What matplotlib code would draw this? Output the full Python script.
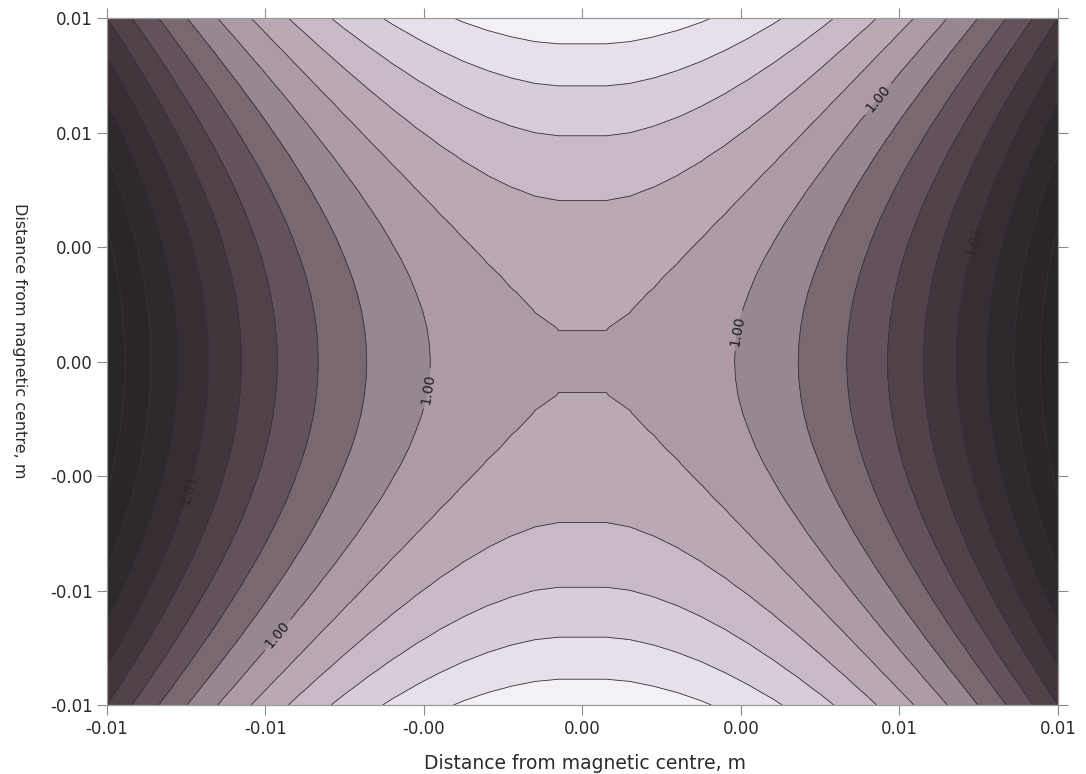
import numpy as np
import matplotlib
matplotlib.use("Agg")
import matplotlib.pyplot as plt
from matplotlib.ticker import FormatStrFormatter

plt.rcParams['font.family'] = ['DejaVu Sans']

# field map sampled every 0.5 mm from the magnetic centre outwards
step = 0.0005
# field along the horizontal axis (y = 0), centre -> edge
bx_half = [1.000040, 1.000040, 1.000097, 1.000219, 1.000388, 1.000607, 1.000874,
           1.001190, 1.001554, 1.001966, 1.002428, 1.002937, 1.003496, 1.004103,
           1.004758, 1.005462, 1.006214, 1.007016, 1.007865, 1.008763, 1.009710]
# field along the vertical axis (x = 0), centre -> edge
by_half = [1.000040, 1.000028, 0.999993, 0.999934, 0.999851, 0.999745, 0.999615,
           0.999462, 0.999285, 0.999084, 0.998860, 0.998612, 0.998341, 0.998046,
           0.997727, 0.997385, 0.997019, 0.996630, 0.996217, 0.995780, 0.995320]

levels = [0.995, 0.996, 0.997, 0.998, 0.999, 1.000, 1.001, 1.002,
          1.003, 1.004, 1.005, 1.006, 1.007, 1.008, 1.009, 1.010]
labelled = [1.001, 1.006]
band_colors = ['#f3f0f6', '#e6e0ea', '#d7ccda', '#c8b9c6', '#baa8b5',
               '#ad9aa5', '#968790', '#7a6870', '#63525b', '#514249',
               '#41363c', '#362e33', '#2e292c', '#2a2628', '#282526']
tick_pos = np.linspace(-0.01, 0.01, 7)

# build the grid (mirror the half profiles)
bx_half = np.array(bx_half)
by_half = np.array(by_half)
r = np.arange(len(bx_half)) * step
x = np.concatenate([-r[:0:-1], r])
y = np.concatenate([-r[:0:-1], r])
bx = np.concatenate([bx_half[:0:-1], bx_half])
by = np.concatenate([by_half[:0:-1], by_half])
Z = bx[None, :] + by[:, None] - bx_half[0]

fig = plt.figure(figsize=(10.86, 7.74), dpi=100)
ax = fig.add_axes([0.0985, 0.0891, 0.8757, 0.8876])

line_col = '#38323a'
ax.contourf(x, y, Z, levels=levels, colors=band_colors)
plain = [lv for lv in levels if lv not in labelled]
ax.contour(x, y, Z, levels=plain, colors=line_col, linewidths=0.6)

cs1 = ax.contour(x, y, Z, levels=[1.001], colors=line_col, linewidths=0.6)
ax.clabel(cs1, fmt='%.2f', fontsize=10, colors='#1e1e1e',
          manual=[(-0.00321, -0.0008), (0.00325, 0.0009),
                  (0.00626, 0.00761), (-0.00653, -0.00782)])
cs2 = ax.contour(x, y, Z, levels=[1.006], colors=line_col, linewidths=0.6)
ax.clabel(cs2, fmt='%.2f', fontsize=10, colors='#2e292c',
          manual=[(-0.00825, -0.00374), (0.00815, 0.00354)])

ax.set_xlim(-0.01, 0.01)
ax.set_ylim(-0.01, 0.01)
ax.set_xticks(tick_pos)
ax.set_yticks(tick_pos)
ax.xaxis.set_major_formatter(FormatStrFormatter('%.2f'))
ax.yaxis.set_major_formatter(FormatStrFormatter('%.2f'))
ax.tick_params(direction='out', length=7, width=0.8, color='#8a8a8a',
               top=True, right=True, labelsize=12, labelcolor='#2a2a2a')
ax.tick_params(axis='x', pad=4)
ax.tick_params(axis='y', pad=3)
for s in ax.spines.values():
    s.set_color('#9a9a9a')
    s.set_linewidth(0.9)

ax.set_xlabel('Distance from magnetic centre, m', fontsize=13.5, color='#2a2a2a')
ax.xaxis.set_label_coords(0.503, -0.071)
ax.set_ylabel('Distance from magnetic centre, m', fontsize=11.5, color='#2a2a2a',
              rotation=270, va='center')
ax.yaxis.set_label_coords(-0.092, 0.53)

fig.savefig('out.png', dpi=100)
